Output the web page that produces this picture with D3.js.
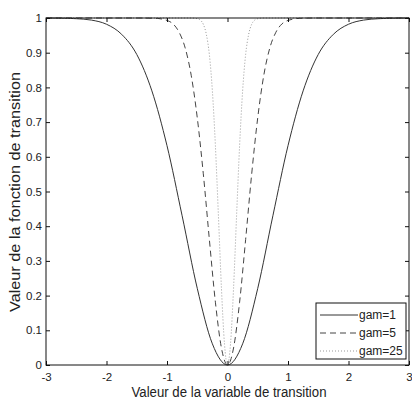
<!DOCTYPE html>
<html>
<head>
<meta charset="utf-8">
<script src="https://cdn.jsdelivr.net/npm/d3@7"></script>
<style>
  body { margin: 0; background: #fff; }
  text { font-family: "Liberation Sans", Arial, sans-serif; fill: #222; }
</style>
</head>
<body>
<div id="chart"></div>
<script>
// values
const xTicks = [-3, -2, -1, 0, 1, 2, 3];
const yTicks = [0, 0.1, 0.2, 0.3, 0.4, 0.5, 0.6, 0.7, 0.8, 0.9, 1];

const x1 = [-3, -2.75, -2.5, -2.25, -2, -1.75, -1.5, -1.25, -1, -0.75, -0.5, -0.25, 0,
            0.25, 0.5, 0.75, 1, 1.25, 1.5, 1.75, 2, 2.25, 2.5, 2.75, 3];
const y1 = [1, 0.9995, 0.998, 0.994, 0.982, 0.953, 0.895, 0.790, 0.632, 0.430, 0.221, 0.061, 0,
            0.061, 0.221, 0.430, 0.632, 0.790, 0.895, 0.953, 0.982, 0.994, 0.998, 0.9995, 1];

const x5 = [-3, -1.5, -1.2, -1, -0.9, -0.8, -0.7, -0.6, -0.5, -0.4, -0.3, -0.2, -0.1, 0,
            0.1, 0.2, 0.3, 0.4, 0.5, 0.6, 0.7, 0.8, 0.9, 1, 1.2, 1.5, 3];
const y5 = [1, 1, 0.9992, 0.993, 0.983, 0.959, 0.914, 0.835, 0.713, 0.551, 0.362, 0.181, 0.049, 0,
            0.049, 0.181, 0.362, 0.551, 0.713, 0.835, 0.914, 0.959, 0.983, 0.993, 0.9992, 1, 1];

const x25 = [-3, -0.6, -0.5, -0.45, -0.4, -0.35, -0.3, -0.25, -0.2, -0.15, -0.1, -0.05, 0,
             0.05, 0.1, 0.15, 0.2, 0.25, 0.3, 0.35, 0.4, 0.45, 0.5, 0.6, 3];
const y25 = [1, 1, 0.998, 0.994, 0.982, 0.953, 0.895, 0.790, 0.632, 0.430, 0.221, 0.061, 0,
             0.061, 0.221, 0.430, 0.632, 0.790, 0.895, 0.953, 0.982, 0.994, 0.998, 1, 1];

const seriesNames = ["gam=1", "gam=5", "gam=25"];

const width = 412;
const height = 401;
const margin = { top: 18, right: 3, bottom: 36, left: 46 };

const svg = d3.select("#chart").append("svg")
    .attr("width", width)
    .attr("height", height);

const x = d3.scaleLinear()
    .domain([-3, 3])
    .range([margin.left, width - margin.right]);

const y = d3.scaleLinear()
    .domain([0, 1])
    .range([height - margin.bottom, margin.top]);

const styles = [
    { stroke: "#333", dash: null },
    { stroke: "#444", dash: "6,4" },
    { stroke: "#999", dash: "1,2" }
];

const series = [
    x1.map((d, i) => [d, y1[i]]),
    x5.map((d, i) => [d, y5[i]]),
    x25.map((d, i) => [d, y25[i]])
];

const line = d3.line()
    .x(d => x(d[0]))
    .y(d => y(d[1]))
    .curve(d3.curveMonotoneX);

svg.selectAll(".curve")
    .data(series)
    .join("path")
    .attr("class", "curve")
    .attr("d", line)
    .attr("fill", "none")
    .attr("stroke", (d, i) => styles[i].stroke)
    .attr("stroke-width", 1)
    .attr("stroke-dasharray", (d, i) => styles[i].dash);

// axes, ticks pointing inward on all four sides
const styleAxis = g => {
    g.select(".domain").remove();
    g.selectAll("line").attr("stroke", "#111");
    g.selectAll("text").style("font-size", "11.5px").attr("fill", "#222");
};

svg.append("g")
    .attr("transform", `translate(0,${height - margin.bottom})`)
    .call(d3.axisBottom(x).tickValues(xTicks).tickSize(-4).tickPadding(8).tickFormat(d => String(d)))
    .call(styleAxis);

svg.append("g")
    .attr("transform", `translate(0,${margin.top})`)
    .call(d3.axisTop(x).tickValues(xTicks).tickSize(-4).tickFormat(""))
    .call(styleAxis);

svg.append("g")
    .attr("transform", `translate(${margin.left},0)`)
    .call(d3.axisLeft(y).tickValues(yTicks).tickSize(-4).tickPadding(4).tickFormat(d => d === 0 || d === 1 ? d : d.toFixed(1)))
    .call(styleAxis);

svg.append("g")
    .attr("transform", `translate(${width - margin.right},0)`)
    .call(d3.axisRight(y).tickValues(yTicks).tickSize(-4).tickFormat(""))
    .call(styleAxis);

svg.append("rect")
    .attr("x", margin.left)
    .attr("y", margin.top)
    .attr("width", width - margin.left - margin.right)
    .attr("height", height - margin.top - margin.bottom)
    .attr("fill", "none")
    .attr("stroke", "#111")
    .attr("stroke-width", 1);

// axis titles
svg.append("text")
    .attr("x", 229)
    .attr("y", 397)
    .attr("text-anchor", "middle")
    .style("font-size", "14px")
    .attr("textLength", 195)
    .attr("lengthAdjust", "spacingAndGlyphs")
    .text("Valeur de la variable de transition");

svg.append("text")
    .attr("transform", "translate(20,192) rotate(-90)")
    .attr("text-anchor", "middle")
    .style("font-size", "15px")
    .attr("textLength", 240)
    .attr("lengthAdjust", "spacingAndGlyphs")
    .text("Valeur de la fonction de transition");

// legend
const legend = svg.append("g").attr("transform", "translate(316,303)");

legend.append("rect")
    .attr("width", 90)
    .attr("height", 56)
    .attr("fill", "#fff")
    .attr("stroke", "#111");

seriesNames.forEach((name, i) => {
    const ly = 12 + i * 18;
    legend.append("line")
        .attr("x1", 4)
        .attr("x2", 42)
        .attr("y1", ly)
        .attr("y2", ly)
        .attr("stroke", styles[i].stroke)
        .attr("stroke-dasharray", styles[i].dash);
    legend.append("text")
        .attr("x", 43)
        .attr("y", ly + 4)
        .style("font-size", "12px")
        .text(name);
});
</script>
</body>
</html>
